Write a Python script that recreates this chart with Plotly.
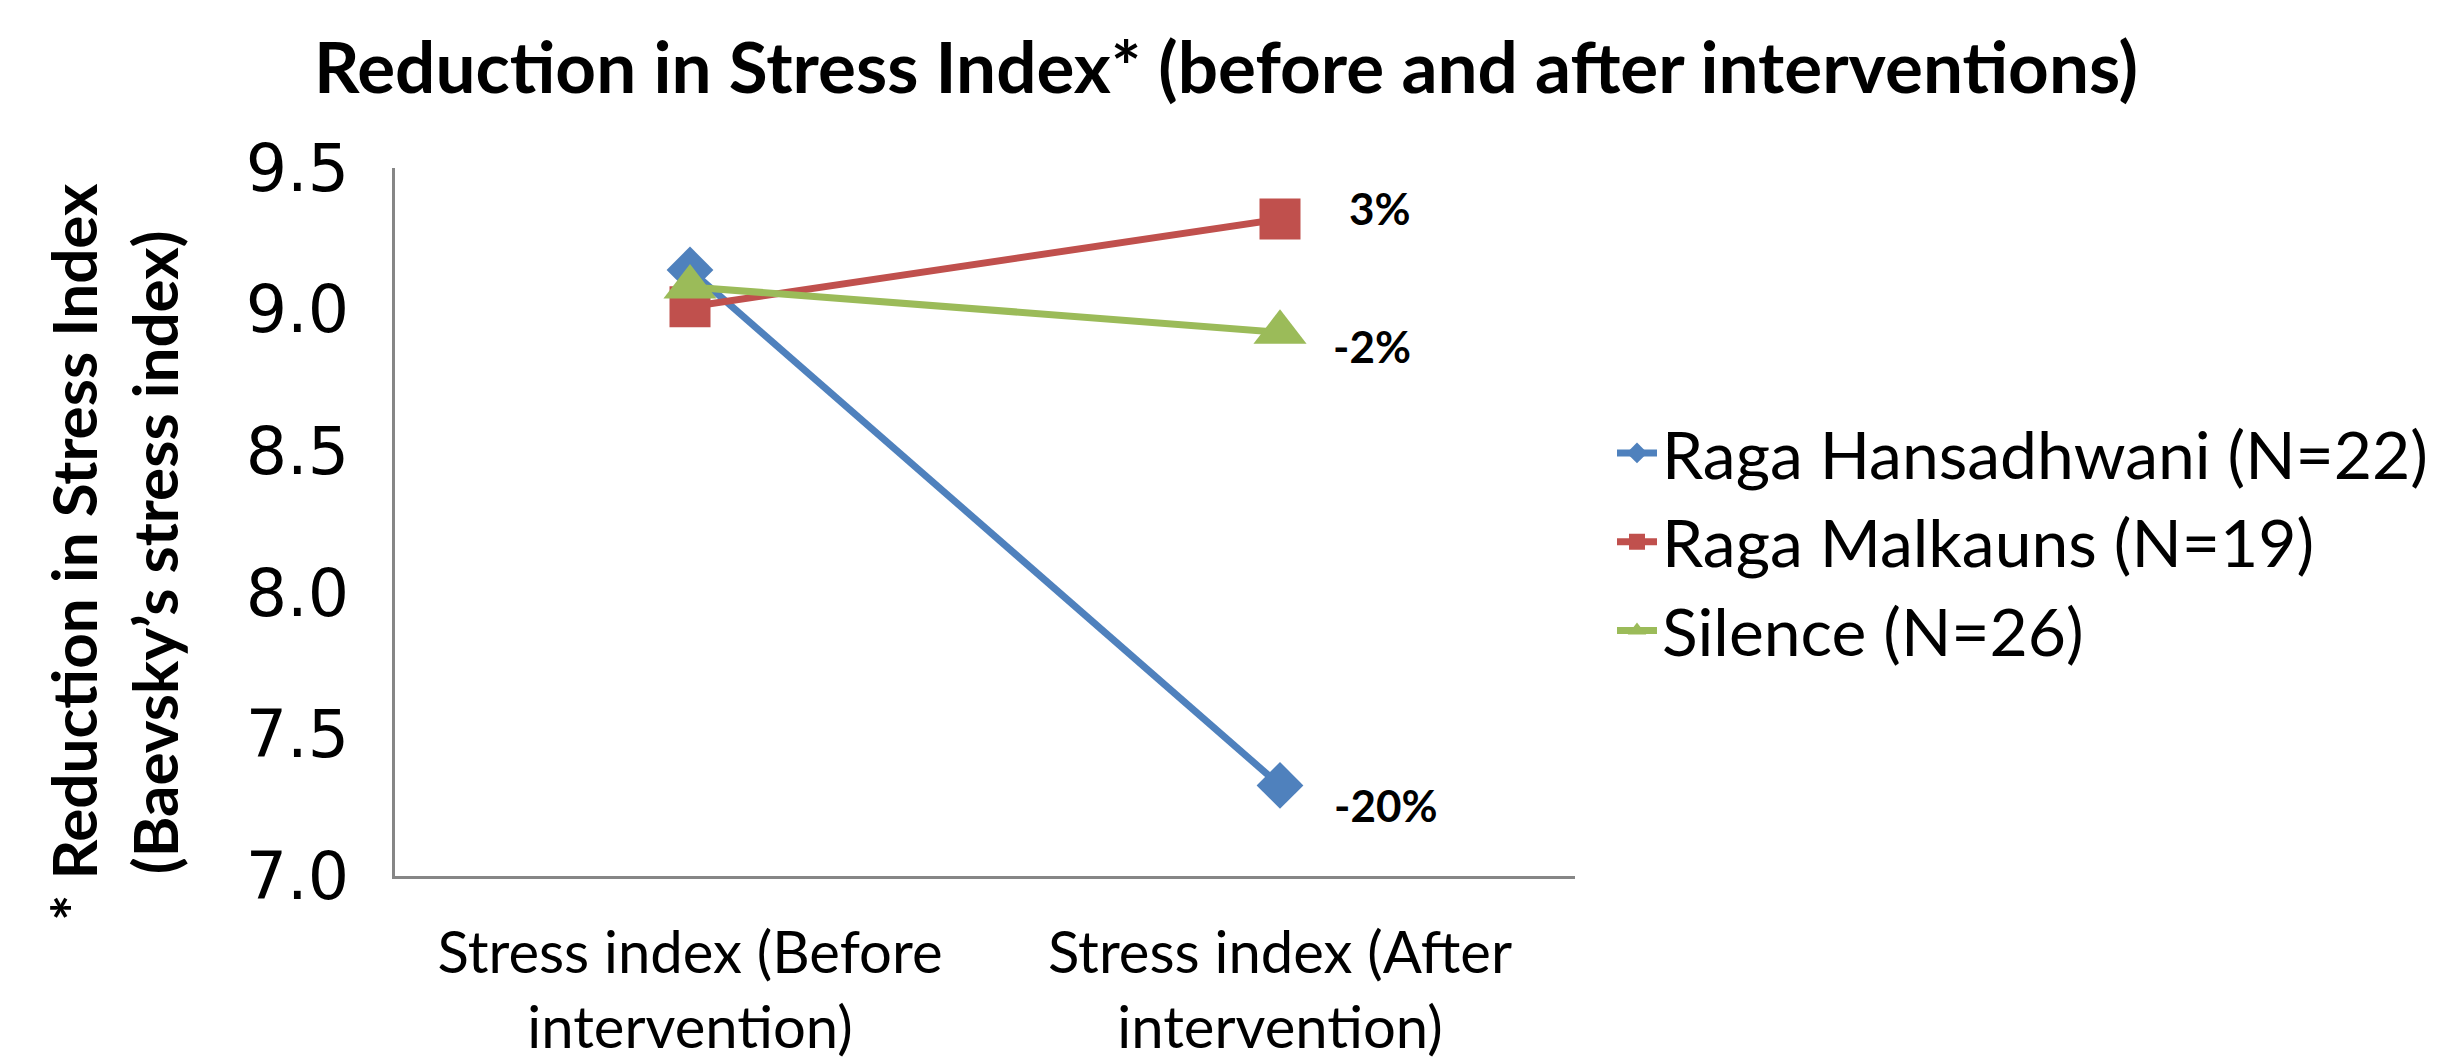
import plotly.graph_objects as go

categories = ["Stress index (Before<br>intervention)", "Stress index (After<br>intervention)"]
series_names = ["Raga Hansadhwani (N=22)", "Raga Malkauns (N=19)", "Silence (N=26)"]
hansadhwani = [9.14, 7.32]
malkauns = [9.01, 9.32]
silence = [9.08, 8.92]
change_labels = ["-20%", "3%", "-2%"]

colors = ["#4F81BD", "#C0504D", "#9BBB59"]
symbols = ["diamond", "square", "triangle-up"]
msizes = [36, 41, 46]
label_shift = [(106, -20), (100, 11), (92, -14)]

FONT = "Lato, Liberation Sans, sans-serif"
W, H = 2454, 1064
L, R, T, B = 395, 1575, 168, 876
PW, PH = R - L, B - T

fig = go.Figure()
for name, vals, col, sym, ms in zip(series_names, [hansadhwani, malkauns, silence], colors, symbols, msizes):
    fig.add_trace(go.Scatter(
        x=categories, y=vals, name=name, mode="lines+markers",
        line=dict(color=col, width=7),
        marker=dict(symbol=sym, size=ms, color=col),
    ))

for vals, lab, (dx, dy) in zip([hansadhwani, malkauns, silence], change_labels, label_shift):
    fig.add_annotation(x=categories[1], y=vals[1], text="<b>" + lab + "</b>",
                       showarrow=False, xshift=dx, yshift=dy,
                       font=dict(family=FONT, size=44, color="black"))

# y-axis title (two lines, rotated)
fig.add_annotation(xref="paper", yref="paper",
                   x=(113 - L) / PW, y=(B - 552) / PH,
                   xanchor="center", yanchor="middle", textangle=-90,
                   text="<b>* Reduction in Stress Index<br>(Baevsky\u2019s stress index)</b>",
                   showarrow=False,
                   font=dict(family=FONT, size=62, color="black"))

fig.update_layout(
    width=W, height=H,
    margin=dict(l=L, r=W - R, t=T, b=H - B, autoexpand=False),
    paper_bgcolor="white", plot_bgcolor="white",
    title=dict(text="<b>Reduction in Stress Index* (before and after interventions)</b>",
               x=1226 / W, xanchor="center", y=1 - 68 / H, yanchor="middle",
               font=dict(family=FONT, size=71, color="black")),
    legend=dict(x=(1612 - L) / PW, xanchor="left", y=(B - 542) / PH, yanchor="middle",
                font=dict(family=FONT, size=66, color="black"),
                itemwidth=40, itemsizing="trace"),
    showlegend=True,
)
fig.update_xaxes(showline=True, linecolor="#868686", linewidth=3, showgrid=False,
                 range=[-0.5, 1.5], automargin=False,
                 ticks="", tickfont=dict(family=FONT, size=58, color="black"),
                 ticklabelstandoff=24)
fig.update_yaxes(range=[7.0, 9.5], dtick=0.5, tickformat=".1f", automargin=False,
                 showline=True, linecolor="#868686", linewidth=3, showgrid=False,
                 zeroline=False, ticks="", ticklabelstandoff=30,
                 tickfont=dict(family="DejaVu Sans, Verdana, sans-serif", size=65, color="black"))

fig.write_html("out.html")
